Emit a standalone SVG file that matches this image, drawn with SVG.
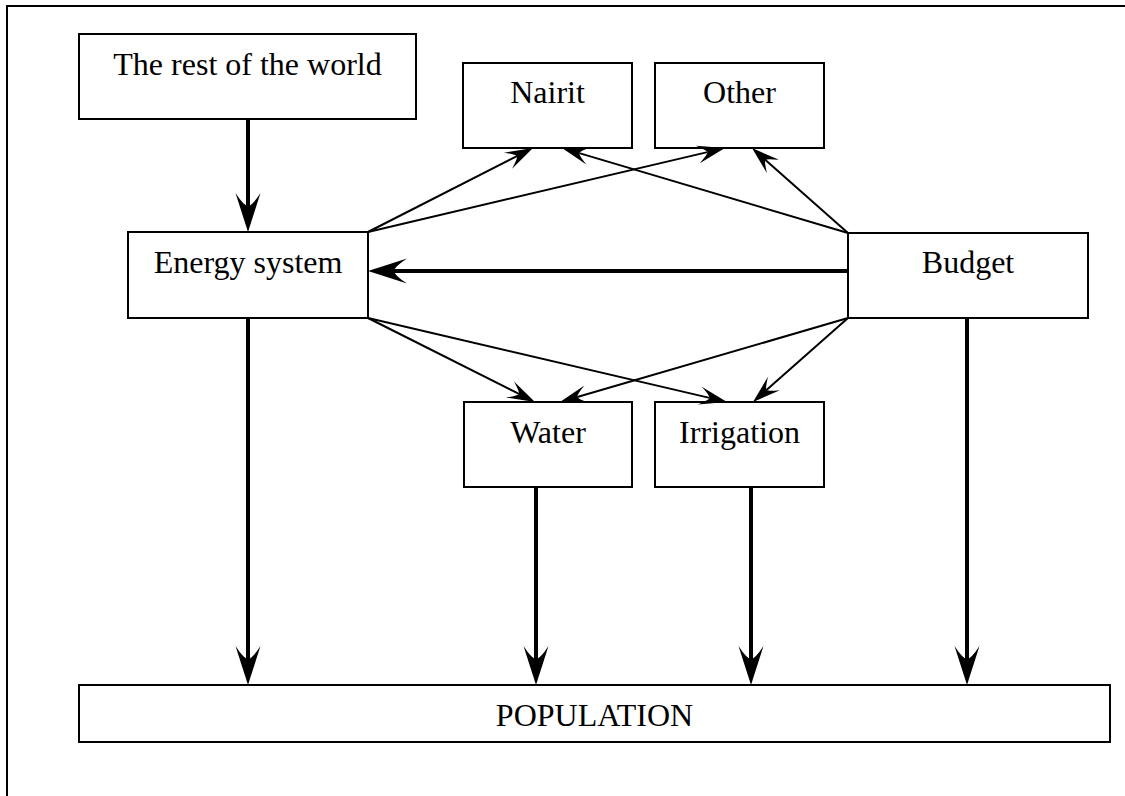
<svg xmlns="http://www.w3.org/2000/svg" width="1125" height="796" viewBox="0 0 1125 796">
<style>
.box{fill:#fff;stroke:#000;stroke-width:2}
.lbl{font-family:"Liberation Serif","Times New Roman",serif;font-size:32px;fill:#000;text-anchor:middle}
.thick{stroke:#000;stroke-width:4;fill:none;marker-end:url(#bigArrow)}
.thin{stroke:#000;stroke-width:2;fill:none;marker-end:url(#smallArrow)}
</style>
<defs>
<marker id="bigArrow" markerUnits="userSpaceOnUse" markerWidth="42" markerHeight="28" viewBox="0 0 42 28" refX="15" refY="14" orient="auto">
<path d="M41,14 L2,1.5 Q15,10 15,14 Q15,18 2,26.5 Z" fill="#000"/>
</marker>
<marker id="smallArrow" markerUnits="userSpaceOnUse" markerWidth="30" markerHeight="22" viewBox="0 0 30 22" refX="11" refY="11" orient="auto">
<path d="M29,11 L1,2 Q11,9 11,11 Q11,13 1,20 Z" fill="#000"/>
</marker>
</defs>
<rect x="0" y="0" width="1125" height="796" fill="#fff"/>
<rect x="7" y="6" width="1140" height="820" fill="none" stroke="#000" stroke-width="2"/>

<g id="rest-of-world"><rect class="box" x="79" y="34" width="337" height="85"/><text class="lbl" x="247.5" y="75">The rest of the world</text></g>
<g id="nairit"><rect class="box" x="463" y="63" width="169" height="85"/><text class="lbl" x="547.5" y="103">Nairit</text></g>
<g id="other"><rect class="box" x="655" y="63" width="169" height="85"/><text class="lbl" x="739.5" y="103">Other</text></g>
<g id="energy-system"><rect class="box" x="128" y="232" width="240" height="86"/><text class="lbl" x="248" y="273">Energy system</text></g>
<g id="budget"><rect class="box" x="848" y="233" width="240" height="85"/><text class="lbl" x="968" y="273">Budget</text></g>
<g id="water"><rect class="box" x="464" y="402" width="168" height="85"/><text class="lbl" x="548" y="443">Water</text></g>
<g id="irrigation"><rect class="box" x="655" y="402" width="169" height="85"/><text class="lbl" x="739.5" y="443">Irrigation</text></g>
<g id="population"><rect class="box" x="79" y="685" width="1031" height="57"/><text class="lbl" x="594.5" y="726">POPULATION</text></g>

<g id="connectors">
<line class="thick" x1="248" y1="119" x2="248" y2="206"/>
<line class="thick" x1="848" y1="271" x2="394" y2="271"/>
<line class="thick" x1="248" y1="318" x2="248" y2="659"/>
<line class="thick" x1="536" y1="487" x2="536" y2="659"/>
<line class="thick" x1="751" y1="487" x2="751" y2="659"/>
<line class="thick" x1="967" y1="318" x2="967" y2="659"/>
<line class="thin" x1="368" y1="232" x2="516.96" y2="156.16"/>
<line class="thin" x1="368" y1="232" x2="707.48" y2="152.12"/>
<line class="thin" x1="848" y1="233" x2="579.26" y2="153.12"/>
<line class="thin" x1="848" y1="233" x2="765.48" y2="159.93"/>
<line class="thin" x1="368" y1="318" x2="518.92" y2="393.91"/>
<line class="thin" x1="368" y1="318" x2="709.48" y2="397.90"/>
<line class="thin" x1="848" y1="318" x2="577.28" y2="396.96"/>
<line class="thin" x1="848" y1="318" x2="766.48" y2="390.08"/>
</g>
</svg>
